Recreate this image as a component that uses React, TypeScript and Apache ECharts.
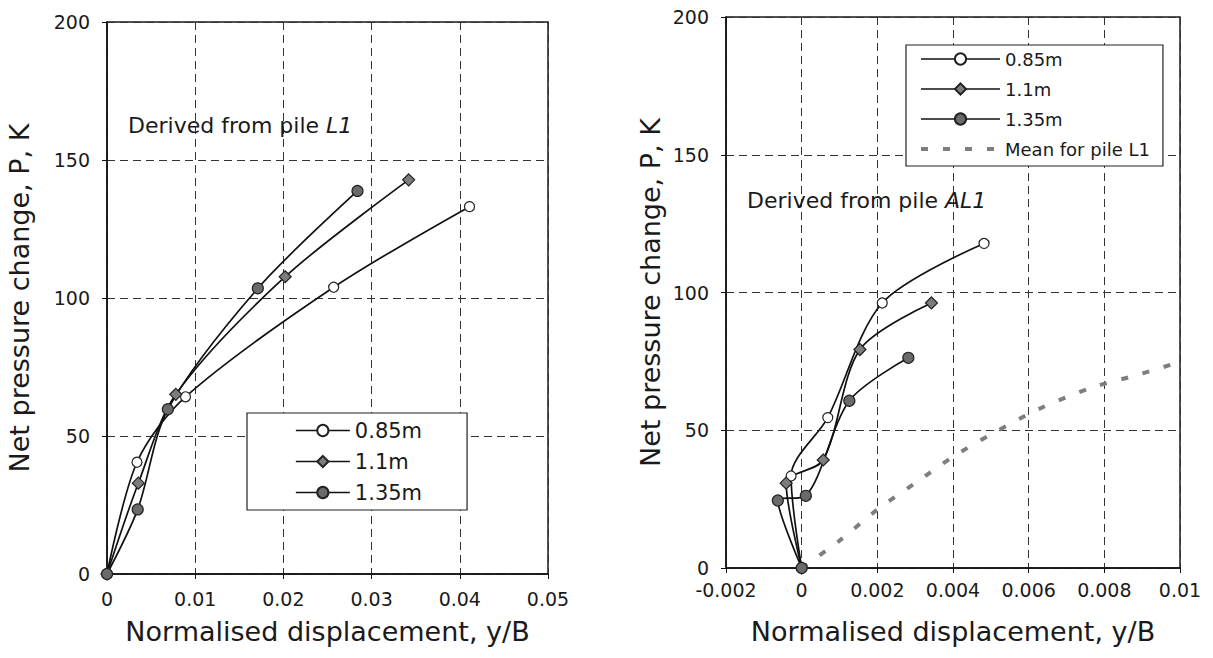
import React, { useEffect, useRef } from "react";
import * as echarts from "echarts";

const FONT = "DejaVu Sans";
const INK = "#1a1a1a";

// ---- Left panel: derived from pile L1 ----
const leftX_085 = [0, 0.0034, 0.0089, 0.0257, 0.0411];
const leftY_085 = [0, 40.5, 64.2, 103.9, 133.1];
const leftX_110 = [0, 0.00355, 0.0078, 0.0202, 0.0342];
const leftY_110 = [0, 32.9, 65.1, 107.7, 142.8];
const leftX_135 = [0, 0.00348, 0.0069, 0.0171, 0.0284];
const leftY_135 = [0, 23.4, 59.7, 103.5, 138.8];

// ---- Right panel: derived from pile AL1 ----
const rightX_085 = [0, -0.00028, 0.00069, 0.00213, 0.00482];
const rightY_085 = [0, 33.4, 54.6, 96.2, 117.8];
const rightX_110 = [0, -0.00041, 0.00057, 0.00154, 0.00343];
const rightY_110 = [0, 30.8, 39.2, 79.3, 96.2];
const rightX_135 = [0, -0.00063, 0.00011, 0.00126, 0.00282];
const rightY_135 = [0, 24.5, 26.2, 60.7, 76.3];
const meanX = [0, 0.00097, 0.00202, 0.003, 0.004, 0.00506, 0.00625, 0.0077, 0.00885, 0.01];
const meanY = [0, 9.6, 21.4, 30.8, 40.4, 48.9, 57.6, 65.6, 70, 74.8];

const seriesNames = ["0.85m", "1.1m", "1.35m"];
const meanName = "Mean for pile L1";
const xTitle = "Normalised displacement, y/B";
const yTitle = "Net pressure change, P, K";

const zip = (xs: number[], ys: number[]) => xs.map((x, i) => [x, ys[i]]);

const styleFor = [
  { symbol: "circle", size: 10, fill: "#ffffff" },
  { symbol: "diamond", size: 12, fill: "#7c7c7c" },
  { symbol: "circle", size: 11, fill: "#6a6a6a" },
];

function mkSeries(name: string, xs: number[], ys: number[], k: number, axis: number) {
  const s = styleFor[k];
  return {
    type: "line",
    name,
    data: zip(xs, ys),
    xAxisIndex: axis,
    yAxisIndex: axis,
    symbol: s.symbol,
    symbolSize: s.size,
    smooth: 0.3,
    color: "#111",
    lineStyle: { color: "#111", width: 1.7 },
    itemStyle: { color: s.fill, borderColor: "#222", borderWidth: 1.2 },
    z: 3,
  };
}

function mkAxes(min: number, max: number, interval: number, gridIndex: number, xGap: number, yGap: number) {
  const common = {
    gridIndex,
    nameLocation: "middle",
    axisLine: { show: true, onZero: false, lineStyle: { color: "#111", width: 1.5 } },
    axisTick: { show: true, inside: false, length: 5, lineStyle: { color: "#111", width: 1 } },
    axisLabel: { fontFamily: FONT, fontSize: 19, color: INK },
    splitLine: { show: true, lineStyle: { color: "#333", type: [8, 5], width: 1 } },
    nameTextStyle: { fontFamily: FONT, fontSize: 27, color: INK },
  };
  return {
    x: {
      ...common,
      type: "value",
      min,
      max,
      interval,
      name: xTitle,
      nameGap: xGap,
      axisLabel: { ...common.axisLabel, margin: gridIndex === 0 ? 15 : 12 },
    },
    y: {
      ...common,
      type: "value",
      min: 0,
      max: 200,
      interval: 50,
      name: yTitle,
      nameGap: yGap,
      axisLabel: { ...common.axisLabel, margin: 17 },
    },
  };
}

export default function App() {
  const ref = useRef<HTMLDivElement>(null);
  useEffect(() => {
    if (!ref.current) return;
    const chart = echarts.init(ref.current, undefined, { renderer: "svg" });
    const a0 = mkAxes(0, 0.05, 0.01, 0, 44, 74);
    const a1 = mkAxes(-0.002, 0.01, 0.002, 1, 50, 62);
    const option = {
      animation: false,
      backgroundColor: "#ffffff",
      grid: [
        { left: 107, top: 22, width: 441, height: 552, show: true, borderColor: "#1a1a1a", borderWidth: 1.5, backgroundColor: "#fff" },
        { left: 726, top: 17, width: 454, height: 551, show: true, borderColor: "#1a1a1a", borderWidth: 1.5, backgroundColor: "#fff" },
      ],
      xAxis: [a0.x, a1.x],
      yAxis: [a0.y, a1.y],
      legend: [
        {
          orient: "vertical",
          left: 247,
          top: 413,
          padding: [7, 45, 7, 48],
          itemGap: 10,
          itemWidth: 54,
          itemHeight: 14,
          borderColor: "#222",
          borderWidth: 1.2,
          backgroundColor: "#fff",
          textStyle: { fontFamily: FONT, fontSize: 21, color: INK },
          lineStyle: { width: 1.7 },
          selectedMode: false,
          data: seriesNames,
        },
        {
          orient: "vertical",
          left: 906,
          top: 45,
          padding: [5, 13, 8, 13],
          itemGap: 12,
          itemWidth: 79,
          itemHeight: 14,
          borderColor: "#222",
          borderWidth: 1.2,
          backgroundColor: "#fff",
          textStyle: { fontFamily: FONT, fontSize: 18, color: INK },
          lineStyle: { width: 1.7 },
          selectedMode: false,
          data: [
            ...seriesNames,
            { name: meanName, itemStyle: { color: "rgba(0,0,0,0)", borderWidth: 0 }, lineStyle: { width: 4 } },
          ],
        },
      ],
      graphic: [
        {
          type: "text",
          x: 128,
          y: 125,
          z: 10,
          style: {
            text: "{a|Derived from pile }{b|L1}",
            fontFamily: FONT,
            fontSize: 22,
            fill: INK,
            verticalAlign: "middle",
            rich: {
              a: { fontFamily: FONT, fontSize: 22, fill: INK },
              b: { fontFamily: FONT, fontSize: 22, fill: INK, fontStyle: "italic" },
            },
          },
        },
        {
          type: "text",
          x: 747,
          y: 200,
          z: 10,
          style: {
            text: "{a|Derived from pile }{b|AL1}",
            fontFamily: FONT,
            fontSize: 22,
            fill: INK,
            verticalAlign: "middle",
            rich: {
              a: { fontFamily: FONT, fontSize: 22, fill: INK },
              b: { fontFamily: FONT, fontSize: 22, fill: INK, fontStyle: "italic" },
            },
          },
        },
      ],
      series: [
        mkSeries(seriesNames[0], leftX_085, leftY_085, 0, 0),
        mkSeries(seriesNames[1], leftX_110, leftY_110, 1, 0),
        mkSeries(seriesNames[2], leftX_135, leftY_135, 2, 0),
        {
          type: "line",
          name: meanName,
          data: zip(meanX, meanY),
          xAxisIndex: 1,
          yAxisIndex: 1,
          symbol: "none",
          smooth: 0.3,
          color: "#7e7e7e",
          lineStyle: { color: "#7e7e7e", width: 4, type: [7, 15] },
          z: 2,
        },
        mkSeries(seriesNames[0], rightX_085, rightY_085, 0, 1),
        mkSeries(seriesNames[1], rightX_110, rightY_110, 1, 1),
        mkSeries(seriesNames[2], rightX_135, rightY_135, 2, 1),
      ],
    };
    chart.setOption(option as any);
    return () => chart.dispose();
  }, []);
  return (
    <div
      ref={ref}
      style={{ position: "fixed", left: 0, top: 0, width: 1213, height: 658, background: "#fff" }}
    />
  );
}
